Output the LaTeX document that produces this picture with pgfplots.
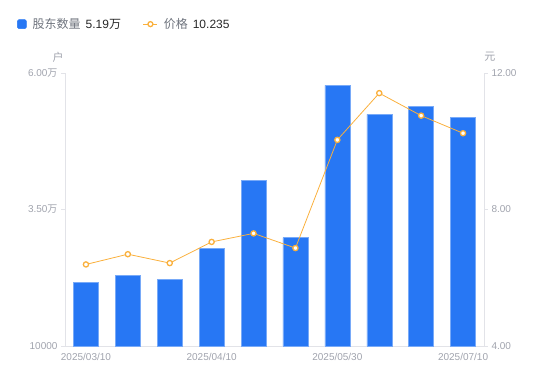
\documentclass[border=0pt]{standalone}
\usepackage{pgfplots}
\pgfplotsset{compat=1.18}
\usepackage{fontspec}
\setmainfont{Liberation Sans}
\newfontfamily\cjk{Noto Sans CJK SC}
\definecolor{barblue}{RGB}{39,119,244}
\definecolor{baredge}{RGB}{120,170,248}
\definecolor{lineor}{RGB}{250,176,60}
\definecolor{ticklab}{RGB}{160,163,173}
\definecolor{axline}{RGB}{226,227,232}
\definecolor{legtxt}{RGB}{110,115,125}
\definecolor{legval}{RGB}{40,40,40}
\begin{document}
\begin{tikzpicture}[x=1bp,y=1bp]
\useasboundingbox (0,0) rectangle (550,381);
\begin{axis}[
  at={(65bp,35bp)}, anchor=south west,
  scale only axis, width=419bp, height=273bp,
  xmin=-0.5, xmax=9.5, ymin=10000, ymax=60000,
  scaled y ticks=false,
  axis x line*=bottom, axis y line*=left,
  axis line style={-, draw=axline, line width=0.8bp},
  xtick={0,3,6,9},
  xticklabels={2025/03/10,2025/04/10,2025/05/30,2025/07/10},
  x tick style={draw=none},
  ytick={10000,35000,60000},
  yticklabels={10000,3.50{\cjk 万},6.00{\cjk 万}},
  tick align=outside, major tick length=4bp,
  y tick style={draw=axline, line width=0.8bp},
  ticklabel style={font=\fontsize{10bp}{12bp}\selectfont, text=ticklab},
  every axis y label/.style={at={(axis description cs:-0.0167,1.0586)}, anchor=center},
  ylabel={\cjk 户},
  ylabel style={font=\fontsize{11bp}{13bp}\selectfont, text=ticklab},
  ybar, bar width=25bp,
  legend style={draw=none, fill=none, at={(axis description cs:-0.1146,1.179)}, anchor=west,
    font=\fontsize{12bp}{14bp}\selectfont, inner sep=0pt,
    /tikz/every even column/.append style={column sep=20bp}},
  legend columns=2, legend cell align=left,
]
\addplot[fill=barblue, draw=baredge, line width=0.5bp,
  legend image code/.code={\fill[barblue, rounded corners=1.5bp] (0bp,-4.5bp) rectangle (9bp,4.5bp);}]
  coordinates {(0,21722) (1,22875) (2,22216) (3,27820) (4,40275) (5,29835) (6,57747) (7,52436) (8,53901) (9,51900)};
\addlegendentry{\hspace{4bp}{\color{legtxt}\cjk 股东数量}\hspace{5bp}{\color{legval}5.19{\cjk 万}}}
\addlegendimage{legend image code/.code={\draw[lineor, line width=0.8bp] (0bp,0bp) -- (14bp,0bp); \draw[lineor, fill=white, line width=1.3bp] (7bp,0bp) circle (2.5bp);}}
\addlegendentry{\hspace{4bp}{\color{legtxt}\cjk 价格}\hspace{5bp}{\color{legval}10.235}}
\end{axis}
\begin{axis}[
  at={(65bp,35bp)}, anchor=south west,
  scale only axis, width=419bp, height=273bp,
  xmin=-0.5, xmax=9.5, ymin=4, ymax=12,
  axis y line*=right, hide x axis,
  axis line style={-, draw=axline, line width=0.8bp},
  ytick={4,8,12}, yticklabels={4.00,8.00,12.00},
  tick align=outside, major tick length=4bp,
  y tick style={draw=axline, line width=0.8bp},
  ticklabel style={font=\fontsize{10bp}{12bp}\selectfont, text=ticklab},
  every axis y label/.style={at={(axis description cs:1.0143,1.0586)}, anchor=center},
  ylabel={\cjk 元},
  ylabel style={font=\fontsize{11bp}{13bp}\selectfont, text=ticklab},
]
\addplot[lineor, line width=0.8bp, mark=*, mark size=2.6bp,
  mark options={fill=white, draw=lineor, line width=1.3bp}]
  coordinates {(0,6.39) (1,6.69) (2,6.43) (3,7.05) (4,7.30) (5,6.87) (6,10.04) (7,11.41) (8,10.75) (9,10.235)};
\end{axis}
\end{tikzpicture}
\end{document}
